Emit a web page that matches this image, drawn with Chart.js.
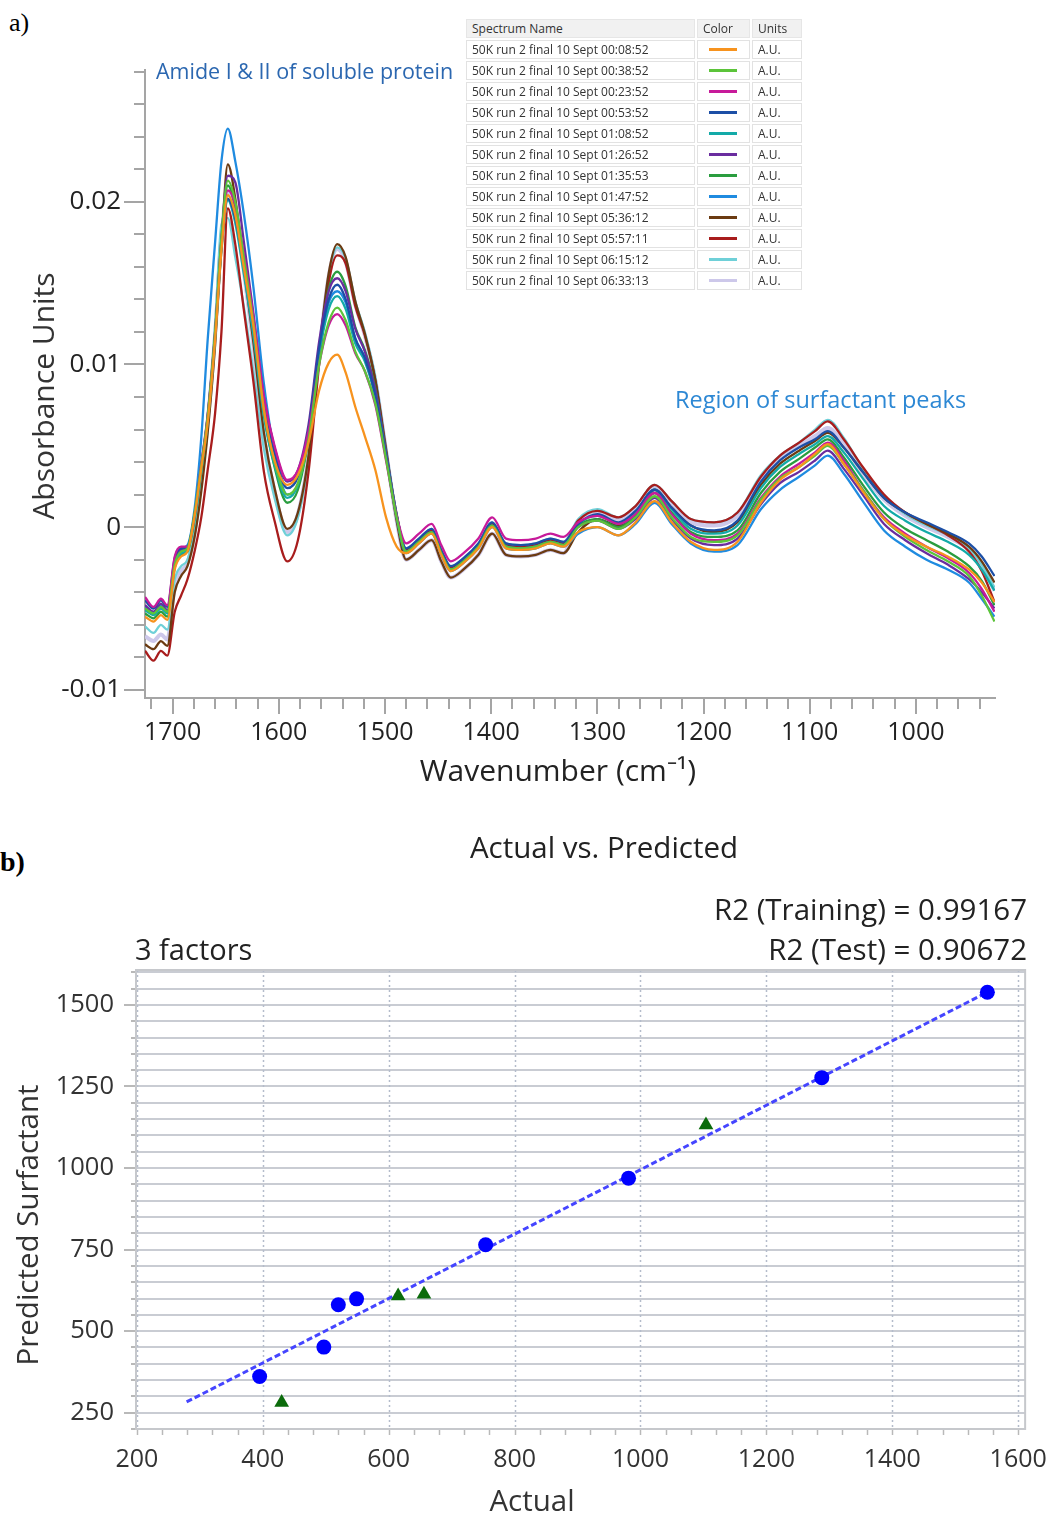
<!DOCTYPE html>
<html>
<head>
<meta charset="utf-8">
<title>Spectra and PLS model</title>
<script src="https://cdn.jsdelivr.net/npm/chart.js@4.4.0/dist/chart.umd.min.js"></script>
<style>
    body { margin: 0; background: #fff; width: 1057px; height: 1516px; position: relative; overflow: hidden; font-family: 'Open Sans', sans-serif; }
    canvas { display: block; position: absolute; left: 0; }
    #spectraChart { top: 0; }
    #plsChart { top: 800px; }
    .panel-tag { position: absolute; font-family: 'Liberation Serif', serif; color: #000; }
    #spectrumTable { position: absolute; left: 466px; top: 19px; width: 336px; font-size: 12px; color: #333; }
    #spectrumTable .row { display: flex; height: 19px; margin-bottom: 2px; }
    #spectrumTable .row > div { box-sizing: border-box; border: 1px solid #e2e2e2; background: #fff; line-height: 17px; padding-left: 5px; margin-right: 2px; white-space: nowrap; overflow: hidden; }
    #spectrumTable .head > div { background: #f1f1f1; border-color: #e6e6e6; }
    #spectrumTable .c1 { width: 229px; }
    #spectrumTable .c2 { width: 53px; }
    #spectrumTable .c3 { width: 50px; margin-right: 0 !important; }
    #spectrumTable .swatch { display: block; width: 28px; height: 3px; margin: 7px 0 0 6px; }
</style>
</head>
<body>
<div class="panel-tag" style="left:9px;top:8px;font-size:26px;">a)</div>
<div class="panel-tag" style="left:0;top:846px;font-size:28px;font-weight:bold;">b)</div>
<canvas id="spectraChart" width="1057" height="800"></canvas>
<canvas id="plsChart" width="1057" height="716"></canvas>
<div id="spectrumTable"></div>

<script>
// ---- panel a: FTIR spectra (absorbance in milli-units) ----
const wavenumbers = [1726, 1718, 1711, 1705, 1698, 1692, 1686, 1679, 1673, 1667, 1660, 1654,
    1648, 1641, 1633, 1624, 1614, 1604, 1592, 1582, 1572, 1562, 1553, 1545, 1537, 1528, 1519, 1509, 1499, 1489,
    1480, 1468, 1456, 1447, 1438, 1426, 1412, 1399, 1386, 1372, 1358, 1344, 1332,
    1318, 1300, 1280, 1264, 1246, 1230, 1212, 1190, 1168,
    1146, 1128, 1110, 1095, 1083, 1068,
    1050, 1030, 1010, 990, 970, 950, 938, 926];

const run0008 = [-5.5, -5.8, -5.4, -5.7, -2.6, -1.8, -1.5, 0.8, 3.6, 6.4, 11.5, 17.0,
    20.4, 19.2, 16.0, 12.4, 7.2, 4.1, 2.6, 3.2, 5.2, 8.4, 10.1, 10.6, 9.5, 7.4, 5.6, 3.5, 0.6, -1.2,
    -1.6, -1.0, -0.4, -1.7, -2.7, -2.2, -1.3, 0.0, -1.3, -1.4, -1.3, -1.0, -1.2,
    -0.3, 0.0, -0.5, 0.3, 1.6, 0.3, -0.9, -1.4, -0.9,
    1.5, 2.9, 3.7, 4.5, 5.1, 3.9,
    2.2, 0.5, -0.5, -1.2, -1.8, -2.6, -3.4, -4.6];
const run0038 = [-5.0, -5.3, -4.9, -5.2, -2.3, -1.5, -1.3, 1.0, 3.8, 6.8, 12.0, 17.8,
    21.3, 20.0, 16.6, 12.6, 7.2, 4.0, 2.0, 2.7, 5.4, 10.0, 12.6, 13.5, 12.7, 10.8, 9.6, 7.6, 4.2, 0.6,
    -1.5, -0.9, -0.3, -1.6, -2.6, -2.1, -1.2, 0.1, -1.2, -1.3, -1.2, -0.9, -1.1,
    0.0, 0.4, -0.1, 0.6, 1.9, 0.6, -0.6, -0.9, -0.5,
    1.7, 3.0, 3.7, 4.4, 5.0, 3.9,
    2.3, 0.5, -0.6, -1.4, -2.1, -3.0, -4.2, -5.8];
const run0023 = [-4.3, -4.9, -4.4, -4.8, -1.8, -1.2, -1.2, 0.9, 3.9, 6.9, 12.0, 17.6,
    20.7, 19.8, 16.8, 13.0, 8.0, 5.0, 2.9, 3.5, 5.9, 10.0, 12.4, 13.1, 12.4, 10.7, 9.6, 7.5, 4.1, 0.7,
    -1.0, -0.4, 0.2, -1.1, -2.1, -1.6, -0.7, 0.6, -0.7, -0.8, -0.7, -0.4, -0.6,
    0.3, 0.7, 0.2, 0.8, 2.1, 0.8, -0.4, -0.8, -0.4,
    1.8, 3.1, 3.9, 4.6, 5.2, 4.1,
    2.3, 0.6, -0.4, -1.2, -1.9, -2.8, -3.8, -5.2];
const run0053 = [-4.5, -5.0, -4.5, -4.9, -1.9, -1.3, -1.2, 0.9, 3.8, 6.8, 11.8, 17.2,
    20.2, 19.0, 16.2, 12.5, 7.6, 4.5, 2.4, 3.1, 6.0, 11.0, 14.0, 14.9, 14.0, 11.6, 10.4, 8.1, 4.4, 0.7,
    -1.3, -0.7, -0.1, -1.4, -2.4, -1.9, -1.0, 0.3, -1.0, -1.1, -1.0, -0.7, -0.9,
    0.2, 0.8, 0.3, 1.0, 2.3, 1.2, 0.1, -0.2, 0.4,
    2.8, 4.1, 4.9, 5.4, 5.9, 4.9,
    3.4, 1.8, 0.9, 0.3, -0.3, -1.0, -1.8, -3.0];
const run0108 = [-5.1, -5.4, -5.0, -5.3, -2.4, -1.6, -1.4, 0.7, 3.5, 6.5, 11.6, 17.0,
    20.1, 18.7, 15.6, 11.8, 6.8, 3.8, 1.8, 2.6, 5.6, 10.6, 13.4, 14.2, 13.4, 11.3, 10.2, 8.0, 4.4, 0.7,
    -1.5, -0.9, -0.3, -1.6, -2.6, -2.1, -1.2, 0.1, -1.2, -1.3, -1.2, -0.9, -1.1,
    0.2, 0.7, 0.2, 0.9, 2.3, 1.1, -0.1, -0.4, 0.1,
    2.4, 3.7, 4.5, 5.1, 5.6, 4.6,
    3.0, 1.3, 0.4, -0.3, -0.9, -1.7, -2.6, -3.9];
const run0126 = [-4.8, -5.2, -4.7, -5.1, -2.1, -1.4, -1.3, 0.8, 3.7, 6.7, 11.9, 17.8,
    21.6, 21.2, 17.6, 13.2, 8.0, 4.9, 2.8, 3.5, 6.3, 11.4, 14.5, 15.3, 14.5, 12.2, 10.8, 8.4, 4.6, 0.8,
    -1.5, -0.9, -0.3, -1.6, -2.6, -2.1, -1.2, 0.1, -1.2, -1.3, -1.2, -0.9, -1.1,
    0.0, 0.4, -0.1, 0.5, 1.8, 0.5, -0.7, -1.1, -0.7,
    1.4, 2.7, 3.4, 4.1, 4.7, 3.6,
    2.0, 0.2, -0.8, -1.6, -2.3, -3.2, -4.0, -5.0];
const run0135 = [-5.3, -5.6, -5.2, -5.5, -2.5, -1.7, -1.5, 0.6, 3.4, 6.5, 11.7, 17.4,
    21.0, 19.6, 16.2, 12.2, 7.0, 3.7, 1.5, 2.3, 5.5, 10.9, 14.6, 15.7, 14.8, 12.3, 10.9, 8.5, 4.6, 0.8,
    -1.5, -0.9, -0.3, -1.6, -2.6, -2.1, -1.2, 0.1, -1.2, -1.3, -1.2, -0.9, -1.1,
    0.1, 0.5, 0.0, 0.7, 2.1, 0.9, -0.3, -0.6, -0.2,
    2.1, 3.4, 4.2, 4.9, 5.4, 4.3,
    2.6, 0.9, -0.1, -0.8, -1.5, -2.4, -3.3, -4.8];
const run0147 = [-4.9, -5.3, -4.8, -5.2, -2.0, -1.3, -1.1, 1.3, 5.5, 11.5, 17.5, 22.5,
    24.5, 22.5, 19.3, 14.8, 8.8, 4.6, 2.0, 2.6, 5.5, 10.8, 13.8, 14.5, 13.8, 11.6, 10.4, 8.1, 4.4, 0.6,
    -1.6, -1.0, -0.4, -1.7, -2.7, -2.2, -1.3, 0.0, -1.3, -1.4, -1.3, -1.0, -1.2,
    -0.4, 0.0, -0.5, 0.2, 1.5, 0.2, -1.0, -1.5, -1.1,
    1.1, 2.3, 3.1, 3.8, 4.4, 3.3,
    1.6, -0.2, -1.2, -2.0, -2.6, -3.4, -4.4, -5.5];
const run0536 = [-7.2, -7.5, -7.0, -7.3, -4.0, -3.0, -2.4, -0.5, 2.2, 5.8, 11.2, 17.4,
    22.3, 20.2, 16.0, 11.4, 5.8, 2.4, -0.1, 0.9, 4.4, 10.8, 15.6, 17.4, 16.6, 13.9, 11.9, 9.0, 4.6, 0.4,
    -2.0, -1.4, -0.8, -2.1, -3.1, -2.6, -1.7, -0.4, -1.7, -1.8, -1.7, -1.4, -1.6,
    -0.3, 0.5, 0.1, 0.9, 2.3, 1.2, 0.1, -0.3, 0.3,
    2.6, 3.9, 4.7, 5.3, 5.8, 4.9,
    3.4, 1.8, 0.9, 0.2, -0.4, -1.2, -2.1, -3.4];
const run0557 = [-7.6, -8.2, -7.6, -7.9, -5.2, -4.2, -3.2, -1.4, 0.6, 3.5, 7.0, 12.0,
    19.6, 17.4, 13.4, 9.0, 3.4, 0.4, -2.1, -0.8, 3.4, 10.0, 15.0, 16.7, 16.2, 13.6, 11.8, 9.0, 4.8, 0.6,
    -1.4, -0.8, -0.2, -1.5, -2.5, -2.0, -1.1, 0.2, -1.1, -1.2, -1.1, -0.8, -1.0,
    0.4, 1.0, 0.6, 1.3, 2.6, 1.6, 0.5, 0.3, 0.9,
    3.1, 4.4, 5.2, 5.9, 6.5, 5.4,
    3.7, 2.0, 0.9, 0.2, -0.5, -1.5, -2.7, -4.6];
const run0615 = [-6.1, -6.5, -6.0, -6.3, -3.2, -2.4, -2.0, 0.2, 3.4, 6.8, 12.4, 18.6,
    19.0, 16.6, 13.6, 9.6, 4.8, 1.8, -0.5, 0.6, 4.2, 10.6, 15.4, 17.2, 16.5, 13.9, 12.0, 9.2, 4.9, 0.7,
    -1.3, -0.7, -0.1, -1.4, -2.4, -1.9, -1.0, 0.3, -1.0, -1.1, -1.0, -0.7, -0.9,
    0.5, 1.1, 0.6, 1.3, 2.6, 1.6, 0.5, 0.3, 0.9,
    3.2, 4.4, 5.2, 6.0, 6.6, 5.5,
    3.6, 1.9, 0.8, 0.1, -0.5, -1.3, -2.3, -3.7];
const run0633 = [-6.7, -7.0, -6.6, -6.9, -3.6, -2.7, -2.2, -0.2, 3.0, 6.4, 11.8, 17.8,
    20.6, 19.4, 15.8, 11.2, 5.6, 2.2, -0.3, 0.8, 4.4, 10.7, 15.4, 17.1, 16.3, 13.7, 11.8, 9.0, 4.7, 0.4,
    -2.0, -1.4, -0.8, -2.1, -3.1, -2.6, -1.7, -0.4, -1.7, -1.8, -1.7, -1.4, -1.6,
    0.3, 0.9, 0.5, 1.1, 2.4, 1.4, 0.3, 0.1, 0.7,
    2.9, 4.2, 5.0, 5.6, 6.1, 5.1,
    3.3, 1.7, 0.7, 0.0, -0.6, -1.4, -2.4, -3.9];

const spectra = [run0008, run0038, run0023, run0053, run0108, run0126,
                 run0135, run0147, run0536, run0557, run0615, run0633];
const spectrumNames = [
    '50K run 2 final 10 Sept 00:08:52', '50K run 2 final 10 Sept 00:38:52',
    '50K run 2 final 10 Sept 00:23:52', '50K run 2 final 10 Sept 00:53:52',
    '50K run 2 final 10 Sept 01:08:52', '50K run 2 final 10 Sept 01:26:52',
    '50K run 2 final 10 Sept 01:35:53', '50K run 2 final 10 Sept 01:47:52',
    '50K run 2 final 10 Sept 05:36:12', '50K run 2 final 10 Sept 05:57:11',
    '50K run 2 final 10 Sept 06:15:12', '50K run 2 final 10 Sept 06:33:13'];
const unitLabels = spectrumNames.map(() => 'A.U.');
const seriesColors = ['#f7931e', '#5cc43a', '#c71a9a', '#1c4fa6', '#13aaa8', '#6a2d9f',
                      '#2a9d3f', '#1f8be0', '#6b3b12', '#a81d1d', '#6fd0d8', '#cdc8ea'];

// ---- panel b: PLS actual vs predicted ----
const trainActual = [395, 497, 520, 549, 754, 981, 1288, 1551];
const trainPredicted = [361, 451, 581, 599, 765, 969, 1277, 1539];
const testActual = [430, 615, 656, 1104];
const testPredicted = [281, 608, 613, 1132];
const fitActual = [279, 1551];
const fitPredicted = [283, 1539];

const FONT = "'Open Sans', sans-serif";

// draws fixed text labels on a chart
function makeCaptions(items) {
    return {
        id: 'captions',
        afterDraw(chart) {
            const ctx = chart.ctx;
            items.forEach(item => {
                ctx.save();
                ctx.font = item.font;
                ctx.fillStyle = item.color || '#222';
                ctx.textAlign = item.align || 'center';
                ctx.textBaseline = 'middle';
                ctx.translate(item.x, item.y);
                if (item.rotate) ctx.rotate(item.rotate);
                ctx.fillText(item.text, 0, 0);
                ctx.restore();
            });
        }
    };
}

// outside tick marks: long ones where a label is shown, short ones elsewhere
function makeTickMarks(cfg) {
    return {
        id: 'tickMarks',
        afterDraw(chart) {
            const {ctx, scales: {x, y}} = chart;
            ctx.save();
            ctx.strokeStyle = cfg.color;
            ctx.lineWidth = cfg.width;
            x.ticks.forEach(t => {
                const px = Math.round(x.getPixelForValue(t.value));
                const len = t.label !== '' ? cfg.xMajor : cfg.xMinor;
                ctx.beginPath(); ctx.moveTo(px, x.top); ctx.lineTo(px, x.top + len); ctx.stroke();
            });
            y.ticks.forEach(t => {
                const py = Math.round(y.getPixelForValue(t.value));
                const len = t.label !== '' ? cfg.yMajor : cfg.yMinor;
                ctx.beginPath(); ctx.moveTo(y.right, py); ctx.lineTo(y.right - len, py); ctx.stroke();
            });
            ctx.restore();
        }
    };
}

function renderSpectrumTable() {
    const box = document.getElementById('spectrumTable');
    let html = '<div class="row head"><div class="c1">Spectrum Name</div><div class="c2">Color</div><div class="c3">Units</div></div>';
    spectrumNames.forEach((name, i) => {
        html += `<div class="row"><div class="c1">${name}</div>` +
                `<div class="c2"><span class="swatch" style="background:${seriesColors[i]}"></span></div>` +
                `<div class="c3">${unitLabels[i]}</div></div>`;
    });
    box.innerHTML = html;
}

function renderSpectraChart() {
    const ctx = document.getElementById('spectraChart').getContext('2d');
    const datasets = spectra.map((vals, i) => ({
        label: spectrumNames[i],
        data: wavenumbers.map((w, j) => ({x: w, y: vals[j] / 1000})),
        borderColor: seriesColors[i],
        borderWidth: i === 11 ? 4 : 2.3,
        pointRadius: 0,
        cubicInterpolationMode: 'monotone',
        order: i === 11 ? 2 : (i === 10 ? 1 : 0)
    }));

    new Chart(ctx, {
        type: 'line',
        data: {datasets},
        options: {
            responsive: false,
            animation: false,
            layout: {padding: {top: 70, right: 62, bottom: 0, left: 0}},
            plugins: {legend: {display: false}, tooltip: {enabled: false}},
            scales: {
                x: {
                    type: 'linear', reverse: true, min: 925.5, max: 1726,
                    afterFit: s => { s.height = 102; },
                    border: {color: '#a5a5a5', width: 2},
                    grid: {drawOnChartArea: false, tickLength: 16, tickColor: 'transparent'},
                    ticks: {
                        stepSize: 20, includeBounds: false, autoSkip: false, maxRotation: 0, padding: 4,
                        color: '#222', font: {family: FONT, size: 25},
                        callback: v => (Math.round(v) % 100 === 0 ? String(Math.round(v)) : '')
                    }
                },
                y: {
                    min: -0.0105, max: 0.0281,
                    afterFit: s => { s.width = 145; },
                    border: {color: '#a5a5a5', width: 2},
                    grid: {drawOnChartArea: false, tickLength: 21, tickColor: 'transparent'},
                    ticks: {
                        stepSize: 0.002, includeBounds: false, autoSkip: false, padding: 3,
                        color: '#222', font: {family: FONT, size: 26},
                        callback: v => {
                            const m = Math.round(v * 1000);
                            return m % 10 === 0 ? String(m / 1000) : '';
                        }
                    }
                }
            }
        },
        plugins: [
            makeTickMarks({color: '#a5a5a5', width: 2, xMajor: 16, xMinor: 11, yMajor: 21, yMinor: 11}),
            makeCaptions([
                {text: 'Absorbance Units', x: 45, y: 396, rotate: -Math.PI / 2, font: `30px ${FONT}`, color: '#333'},
                {text: 'Wavenumber (cm\u207B\u00B9)', x: 558, y: 772, font: `30px ${FONT}`, color: '#222'},
                {text: 'Amide I & II of soluble protein', x: 156, y: 73, align: 'left', font: `21.5px ${FONT}`, color: '#2b67b0'},
                {text: 'Region of surfactant peaks', x: 675, y: 401, align: 'left', font: `23.5px ${FONT}`, color: '#2d88d4'}
            ])
        ]
    });
}

// horizontal grid every tick, dotted verticals at labelled values, frame and outside ticks
const plotFrame = {
    id: 'plotFrame',
    beforeDatasetsDraw(chart) {
        const {ctx, chartArea: a, scales: {x, y}} = chart;
        ctx.save();
        ctx.lineWidth = 2;
        y.ticks.forEach(t => {
            const py = Math.round(y.getPixelForValue(t.value));
            ctx.strokeStyle = '#c9ccd3';
            ctx.beginPath(); ctx.moveTo(a.left, py); ctx.lineTo(a.right, py); ctx.stroke();
            const len = t.label !== '' ? 12 : 5;
            ctx.strokeStyle = '#b9b9b9';
            ctx.beginPath(); ctx.moveTo(a.left, py); ctx.lineTo(a.left - len, py); ctx.stroke();
        });
        ctx.strokeStyle = '#b9b9b9';
        ctx.lineWidth = 1.5;
        x.ticks.forEach(t => {
            const px = Math.round(x.getPixelForValue(t.value)) + 0.5;
            ctx.beginPath(); ctx.moveTo(px, a.bottom); ctx.lineTo(px, a.bottom + 6); ctx.stroke();
        });
        ctx.setLineDash([2, 3]);
        ctx.strokeStyle = '#b4bccb';
        x.ticks.forEach(t => {
            if (t.label === '') return;
            const px = Math.round(x.getPixelForValue(t.value)) + 0.5;
            ctx.beginPath(); ctx.moveTo(px, a.top); ctx.lineTo(px, a.bottom); ctx.stroke();
        });
        ctx.setLineDash([]);
        ctx.strokeStyle = '#c6c8cc';
        ctx.lineWidth = 2;
        ctx.strokeRect(a.left, a.top, a.right - a.left, a.bottom - a.top);
        ctx.restore();
    }
};

function renderPlsChart() {
    const ctx = document.getElementById('plsChart').getContext('2d');
    new Chart(ctx, {
        type: 'scatter',
        data: {
            datasets: [
                {
                    label: 'Training',
                    data: trainActual.map((v, i) => ({x: v, y: trainPredicted[i]})),
                    pointStyle: 'circle', pointRadius: 7.5, borderWidth: 0,
                    backgroundColor: '#0000ff', order: 0
                },
                {
                    label: 'Test',
                    data: testActual.map((v, i) => ({x: v, y: testPredicted[i]})),
                    pointStyle: 'triangle', pointRadius: 8.5, borderWidth: 0,
                    backgroundColor: '#0b6b0b', order: 0
                },
                {
                    label: 'Fit',
                    type: 'line',
                    data: fitActual.map((v, i) => ({x: v, y: fitPredicted[i]})),
                    borderColor: '#4545ff', borderWidth: 3, borderDash: [6, 3],
                    pointRadius: 0, order: 1
                }
            ]
        },
        options: {
            responsive: false,
            animation: false,
            layout: {padding: {top: 170, right: 26, bottom: 0, left: 0}},
            plugins: {legend: {display: false}, tooltip: {enabled: false}},
            scales: {
                x: {
                    type: 'linear', min: 198.6, max: 1611,
                    afterFit: s => { s.height = 87; },
                    border: {display: false},
                    grid: {drawOnChartArea: false, tickLength: 6, tickColor: 'transparent'},
                    ticks: {
                        stepSize: 40, includeBounds: false, autoSkip: false, maxRotation: 0, padding: 10,
                        color: '#333', font: {family: FONT, size: 25},
                        callback: v => (Math.round(v) % 200 === 0 ? String(Math.round(v)) : '')
                    }
                },
                y: {
                    min: 200, max: 1607,
                    afterFit: s => { s.width = 136; },
                    border: {display: false},
                    grid: {drawOnChartArea: false, tickLength: 12, tickColor: 'transparent'},
                    ticks: {
                        stepSize: 50, includeBounds: false, autoSkip: false, padding: 10,
                        color: '#333', font: {family: FONT, size: 25.5},
                        callback: v => (Math.round(v) % 250 === 0 ? String(Math.round(v)) : '')
                    }
                }
            }
        },
        plugins: [
            plotFrame,
            makeCaptions([
                {text: 'Actual vs. Predicted', x: 604, y: 50, font: `29.5px ${FONT}`, color: '#222'},
                {text: 'R2 (Training) = 0.99167', x: 1027, y: 112, align: 'right', font: `29.5px ${FONT}`, color: '#222'},
                {text: 'R2 (Test) = 0.90672', x: 1027, y: 152, align: 'right', font: `29.5px ${FONT}`, color: '#222'},
                {text: '3 factors', x: 135, y: 152, align: 'left', font: `29px ${FONT}`, color: '#222'},
                {text: 'Actual', x: 532, y: 703, font: `29.5px ${FONT}`, color: '#333'},
                {text: 'Predicted Surfactant', x: 30, y: 425, rotate: -Math.PI / 2, font: `29.5px ${FONT}`, color: '#333'}
            ])
        ]
    });
}

document.addEventListener('DOMContentLoaded', () => {
    renderSpectrumTable();
    renderSpectraChart();
    renderPlsChart();
});
</script>
</body>
</html>
